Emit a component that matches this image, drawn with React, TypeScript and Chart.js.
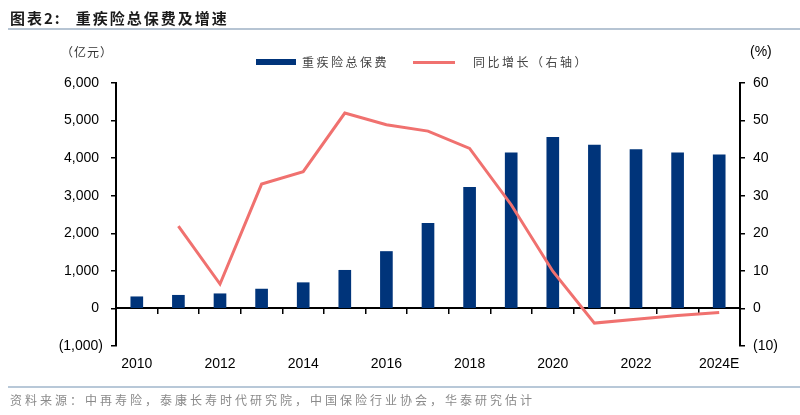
import { useEffect, useRef } from "react"
import { Chart, registerables } from "chart.js"

Chart.register(...registerables)

// 数据
const years = ["2010", "2011", "2012", "2013", "2014", "2015", "2016", "2017", "2018", "2019", "2020", "2021", "2022", "2023", "2024E"]
const premium = [310, 350, 390, 515, 685, 1015, 1515, 2265, 3220, 4140, 4555, 4350, 4225, 4140, 4090]
const growth = [null, 21.9, 6.5, 33.1, 36.4, 52.0, 48.9, 47.2, 42.6, 27.6, 9.9, -3.9, -2.9, -1.9, -1.1]

const leftTicks = { min: -1000, max: 6000, step: 1000 }
const rightTicks = { min: -10, max: 60, step: 10 }

const BAR_COLOR = "#00347A"
const LINE_COLOR = "#F0716F"
const tickFont = { family: "'Liberation Sans', Arial, sans-serif", size: 14 }
const cjk = "'Noto Sans CJK SC', 'Noto Sans', sans-serif"

function fmt(v: number, comma: boolean) {
    const s = comma ? Math.abs(v).toLocaleString("en-US") : String(Math.abs(v))
    return v < 0 ? `(${s})` : `${s} `
}

function PremiumChart() {
    const chartRef = useRef<HTMLCanvasElement>(null)
    const chartInstance = useRef<Chart | null>(null)

    useEffect(() => {
        if (!chartRef.current) return
        if (chartInstance.current) chartInstance.current.destroy()
        const ctx = chartRef.current.getContext("2d")
        if (!ctx) return

        chartInstance.current = new Chart(ctx, {
            type: "bar",
            data: {
                labels: years,
                datasets: [
                    {
                        type: "line",
                        label: "同比增长（右轴）",
                        data: growth,
                        borderColor: LINE_COLOR,
                        backgroundColor: LINE_COLOR,
                        borderWidth: 3,
                        pointRadius: 0,
                        tension: 0,
                        yAxisID: "y1",
                        xAxisID: "x",
                        order: 0,
                    },
                    {
                        type: "bar",
                        label: "重疾险总保费",
                        data: premium,
                        backgroundColor: BAR_COLOR,
                        barThickness: 12,
                        yAxisID: "y",
                        xAxisID: "x",
                        order: 1,
                    },
                ] as any,
            },
            options: {
                animation: false,
                responsive: false,
                maintainAspectRatio: false,
                layout: { padding: { top: 83, left: 0, right: 0, bottom: 0 } },
                plugins: {
                    legend: { display: false },
                    tooltip: { enabled: false },
                },
                scales: {
                    x: {
                        type: "category",
                        position: { y: 0 } as any,
                        offset: true,
                        grid: { display: true, offset: true, drawOnChartArea: false, drawTicks: true, tickLength: 5, color: "#000", lineWidth: 1.5 },
                        border: { display: true, color: "#000", width: 2 },
                        ticks: { display: false },
                    },
                    x2: {
                        type: "category",
                        position: "bottom",
                        offset: true,
                        grid: { display: false, drawTicks: false },
                        border: { display: false },
                        ticks: {
                            autoSkip: false,
                            maxRotation: 0,
                            padding: 10,
                            color: "#000",
                            font: tickFont,
                            callback: (_v: any, i: number) => (i % 2 === 0 ? years[i] : ""),
                        },
                        afterFit: (s: any) => { s.height = 69 },
                    },
                    y: {
                        position: "left",
                        min: leftTicks.min,
                        max: leftTicks.max,
                        grid: { display: true, drawOnChartArea: false, drawTicks: true, tickLength: 5, color: "#000", lineWidth: 1.5 },
                        border: { display: true, color: "#000", width: 2 },
                        ticks: {
                            stepSize: leftTicks.step,
                            padding: 8,
                            color: "#000",
                            font: tickFont,
                            callback: (v: any) => fmt(Number(v), true),
                        },
                        afterFit: (s: any) => { s.width = 116 },
                    },
                    y1: {
                        position: "right",
                        min: rightTicks.min,
                        max: rightTicks.max,
                        grid: { display: true, drawOnChartArea: false, drawTicks: true, tickLength: 5, color: "#000", lineWidth: 1.5 },
                        border: { display: true, color: "#000", width: 2 },
                        ticks: {
                            stepSize: rightTicks.step,
                            padding: 8,
                            color: "#000",
                            font: tickFont,
                            callback: (v: any) => fmt(Number(v), false),
                        },
                        afterFit: (s: any) => { s.width = 60 },
                    },
                },
            },
        })

        return () => {
            if (chartInstance.current) {
                chartInstance.current.destroy()
                chartInstance.current = null
            }
        }
    }, [])

    return <canvas ref={chartRef} width={800} height={415} style={{ position: "absolute", left: 0, top: 0, width: 800, height: 415 }} />
}

export default function App() {
    useEffect(() => {
        document.body.style.margin = "0"
    }, [])

    const abs = (s: any) => ({ position: "absolute" as const, whiteSpace: "nowrap" as const, ...s })

    return (
        <div style={{ position: "relative", width: 800, height: 415, background: "#fff", overflow: "hidden" }}>
            <PremiumChart />
            <div style={abs({ left: 10, top: 7, fontFamily: cjk, fontWeight: 700, fontSize: 15, color: "#1a1a1a", letterSpacing: 2 })}>
                图表2:<span style={{ marginLeft: 14 }}>重疾险总保费及增速</span>
            </div>
            <div style={abs({ left: 8, right: 0, top: 28, height: 2, background: "#B6C4D3" })} />
            <div style={abs({ left: 61, top: 43, fontFamily: cjk, fontSize: 12, color: "#333", letterSpacing: 1 })}>（亿元）</div>
            <div style={abs({ left: 750, top: 43, fontFamily: "'Liberation Sans', Arial, sans-serif", fontSize: 14, color: "#000" })}>(%)</div>
            <div style={abs({ left: 256, top: 59, width: 40, height: 6, background: BAR_COLOR })} />
            <div style={abs({ left: 302, top: 53, fontFamily: cjk, fontSize: 12, color: "#444", letterSpacing: 2.5 })}>重疾险总保费</div>
            <div style={abs({ left: 413, top: 61, width: 42, height: 3, background: LINE_COLOR })} />
            <div style={abs({ left: 473, top: 53, fontFamily: cjk, fontSize: 12, color: "#444", letterSpacing: 2.5 })}>同比增长（右轴）</div>
            <div style={abs({ left: 8, right: 0, top: 386, height: 2, background: "#B8C8D8" })} />
            <div style={abs({ left: 10, top: 391, fontFamily: cjk, fontSize: 12, color: "#8a8a8a", letterSpacing: 3 })}>
                资料来源：中再寿险，泰康长寿时代研究院，中国保险行业协会，华泰研究估计
            </div>
        </div>
    )
}
